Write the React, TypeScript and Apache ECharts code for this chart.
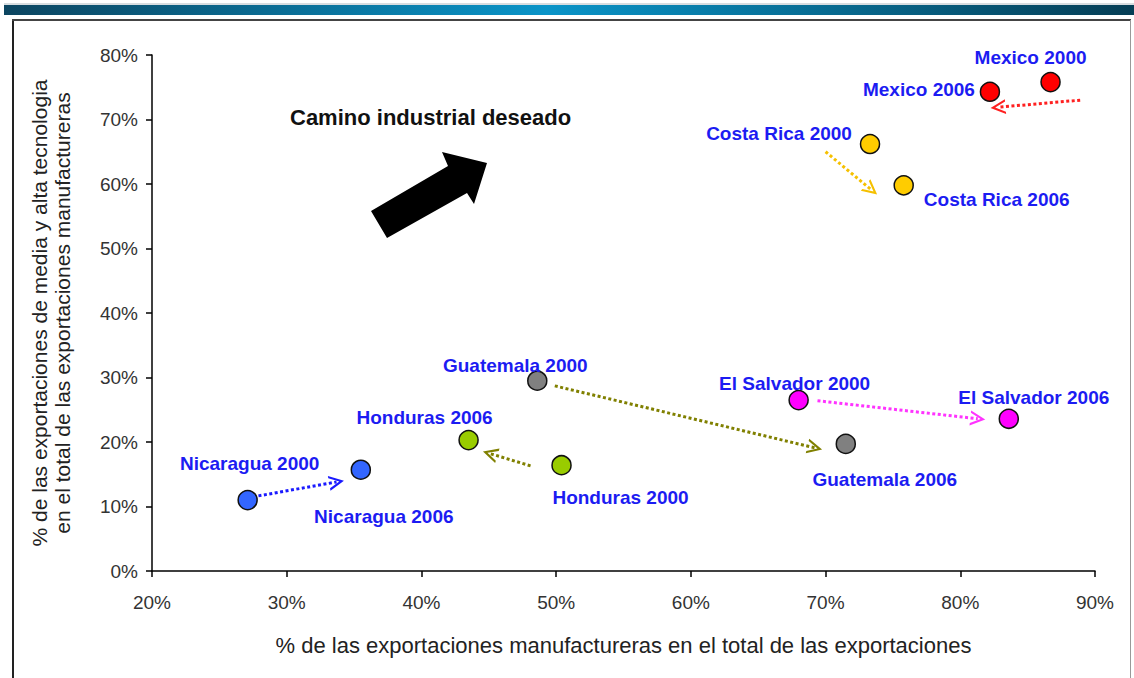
import React, { useEffect, useRef } from "react";
import * as echarts from "echarts";

// ---- data (percent) ----
const countries = ["Mexico", "Costa Rica", "Guatemala", "El Salvador", "Honduras", "Nicaragua"];
const x2000 = [86.7, 73.3, 48.6, 68.0, 50.4, 27.1];
const y2000 = [75.8, 66.2, 29.5, 26.5, 16.4, 11.0];
const x2006 = [82.2, 75.8, 71.5, 83.6, 43.5, 35.5];
const y2006 = [74.3, 59.8, 19.7, 23.6, 20.3, 15.7];
// arrow annotation endpoints (data units)
const arrowFromX = [88.9, 70.0, 49.9, 69.4, 48.1, 27.5];
const arrowFromY = [73.0, 65.0, 28.7, 26.4, 16.3, 11.5];
const arrowToX = [82.8, 73.4, 69.2, 81.3, 45.1, 33.7];
const arrowToY = [71.9, 59.1, 19.1, 23.6, 18.2, 13.8];
const xTicks = { min: 20, max: 90, step: 10 };
const yTicks = { min: 0, max: 80, step: 10 };

// ---- styles ----
const markerColors = ["#ff0000", "#ffcc00", "#808080", "#ff00ff", "#99cc00", "#3366ff"];
const arrowColors = ["#ff2020", "#f5c000", "#808000", "#ff33ff", "#808000", "#1a1aff"];
const labelOffset2000 = [[-20, -25], [-91, -11], [-22, -15], [-4, -17], [59, 32], [2, -37]];
const labelOffset2006 = [[-71, -2], [93, 14], [39, 36], [25, -21], [-44, -23], [23, 47]];
const LABEL_COLOR = "#1c1cf2";
const chevron = "path://M10,0 L20,14 L16.8,14 L10,4.4 L3.2,14 L0,14 Z";

export default function App() {
  const ref = useRef<HTMLDivElement>(null);
  useEffect(() => {
    if (!ref.current) return;
    const chart = echarts.init(ref.current, null, { renderer: "svg" });

    const points: any[] = [];
    countries.forEach((c, i) => {
      points.push({
        name: c + " 2000",
        value: [x2000[i], y2000[i]],
        itemStyle: { color: markerColors[i] },
        label: { offset: labelOffset2000[i] },
      });
      points.push({
        name: c + " 2006",
        value: [x2006[i], y2006[i]],
        itemStyle: { color: markerColors[i] },
        label: { offset: labelOffset2006[i] },
      });
    });

    const arrows = countries.map((c, i) => ({
      name: c,
      coords: [
        [arrowFromX[i], arrowFromY[i]],
        [arrowToX[i], arrowToY[i]],
      ],
      lineStyle: { color: arrowColors[i] },
      itemStyle: { color: arrowColors[i] },
    }));

    const font = "'Liberation Sans', Arial, sans-serif";

    chart.setOption({
      animation: false,
      backgroundColor: "#ffffff",
      grid: { left: 152, right: 39, top: 55, bottom: 107 },
      xAxis: {
        type: "value",
        min: xTicks.min,
        max: xTicks.max,
        interval: xTicks.step,
        name: "% de las exportaciones manufactureras en el total de las exportaciones",
        nameLocation: "middle",
        nameGap: 63,
        nameTextStyle: { fontFamily: font, fontSize: 22, color: "#222" },
        axisLine: { show: true, lineStyle: { color: "#000", width: 1.5 } },
        axisTick: { show: true, length: 6, lineStyle: { color: "#000", width: 1.5 } },
        axisLabel: {
          formatter: "{value}%",
          fontFamily: font,
          fontSize: 19,
          color: "#333",
          margin: 22,
        },
        splitLine: { show: false },
      },
      yAxis: {
        type: "value",
        min: yTicks.min,
        max: yTicks.max,
        interval: yTicks.step,
        name: "% de las exportaciones de media y alta tecnologia\nen el total de las exportaciones manufactureras",
        nameLocation: "middle",
        nameGap: 78,
        nameTextStyle: { fontFamily: font, fontSize: 21, color: "#222", lineHeight: 23 },
        axisLine: { show: true, lineStyle: { color: "#000", width: 1.5 } },
        axisTick: { show: true, length: 6, lineStyle: { color: "#000", width: 1.5 } },
        axisLabel: {
          formatter: "{value}%",
          fontFamily: font,
          fontSize: 19,
          color: "#333",
          margin: 14,
        },
        splitLine: { show: false },
      },
      series: [
        {
          type: "lines",
          coordinateSystem: "cartesian2d",
          symbol: ["none", chevron],
          symbolSize: [22, 15],
          lineStyle: { type: [3, 2.5], width: 3, opacity: 1 },
          data: arrows,
          z: 2,
        },
        {
          type: "scatter",
          symbol: "circle",
          symbolSize: 19,
          itemStyle: { borderColor: "#111", borderWidth: 1.5, opacity: 1 },
          label: {
            show: true,
            position: "inside",
            formatter: "{b}",
            fontFamily: font,
            fontWeight: "bold",
            fontSize: 19,
            color: LABEL_COLOR,
          },
          data: points,
          z: 3,
        },
      ],
      graphic: [
        {
          type: "rect",
          shape: { x: 4, y: 3, width: 1130, height: 2 },
          style: { fill: "#d8dde0" },
          silent: true,
        },
        {
          type: "rect",
          shape: { x: 4, y: 5, width: 1130, height: 10 },
          style: {
            fill: new echarts.graphic.LinearGradient(0, 0, 1, 0, [
              { offset: 0, color: "#0c4560" },
              { offset: 0.48, color: "#0a94c8" },
              { offset: 1, color: "#063e55" },
            ]),
          },
          silent: true,
        },
        {
          type: "line",
          shape: { x1: 13, y1: 19, x2: 13, y2: 678 },
          style: { stroke: "#222", lineWidth: 2 },
          silent: true,
        },
        {
          type: "line",
          shape: { x1: 12, y1: 20, x2: 1131, y2: 20 },
          style: { stroke: "#444", lineWidth: 2 },
          silent: true,
        },
        {
          type: "line",
          shape: { x1: 1130.5, y1: 20, x2: 1130.5, y2: 678 },
          style: { stroke: "#999", lineWidth: 1 },
          silent: true,
        },
        {
          type: "polygon",
          shape: {
            points: [
              [371, 211],
              [448, 166],
              [442, 152],
              [487, 163],
              [474, 204],
              [467, 193],
              [387, 238],
            ],
          },
          style: { fill: "#000" },
          silent: true,
        },
        {
          type: "text",
          x: 290,
          y: 117,
          style: {
            text: "Camino industrial deseado",
            fontFamily: font,
            fontWeight: "bold",
            fontSize: 22,
            fill: "#111",
            verticalAlign: "middle",
          },
          silent: true,
        },
      ],
    });
    return () => chart.dispose();
  }, []);

  return (
    <div
      ref={ref}
      style={{ position: "fixed", left: 0, top: 0, width: 1134, height: 678, background: "#fff" }}
    />
  );
}
